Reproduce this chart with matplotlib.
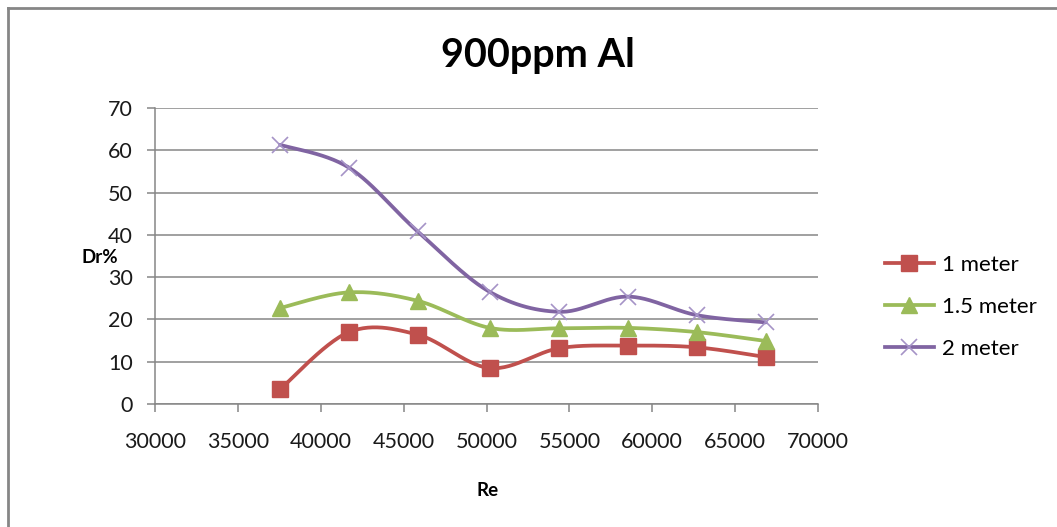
import numpy as np
import matplotlib
matplotlib.use("Agg")
import matplotlib.pyplot as plt
from matplotlib.lines import Line2D

plt.rcParams['font.family'] = ['Lato', 'DejaVu Sans']

re_values = [37550, 41700, 45850, 50200, 54400, 58550, 62700, 66850]
dr_1m = [3.5, 17.0, 16.4, 8.5, 13.2, 13.8, 13.4, 11.1]
dr_15m = [22.7, 26.4, 24.4, 18.0, 17.9, 18.0, 17.0, 14.9]
dr_2m = [61.3, 55.9, 40.8, 26.5, 21.8, 25.4, 21.0, 19.3]
series_labels = ['1 meter', '1.5 meter', '2 meter']
title = '900ppm Al'

W, H = 1057, 527
fig = plt.figure(figsize=(W / 100, H / 100), dpi=100)
ax = fig.add_axes([155 / W, 1 - 404 / H, (818 - 155) / W, (404 - 108) / H])

XMIN, XMAX, YMIN, YMAX = 30000, 70000, 0, 70


def smooth(xs, ys, n=30):
    # Excel-like Bezier smoothing computed in screen-proportional space
    sx = 663.0 / (XMAX - XMIN)
    sy = 296.0 / (YMAX - YMIN)
    P = np.column_stack([(np.asarray(xs) - XMIN) * sx, np.asarray(ys) * sy])
    out = []
    m = len(P)
    for i in range(m - 1):
        p0 = P[i - 1] if i > 0 else P[i]
        p1 = P[i]
        p2 = P[i + 1]
        p3 = P[i + 2] if i + 2 < m else P[i + 1]
        c1 = p1 + (p2 - p0) / 6.0
        c2 = p2 - (p3 - p1) / 6.0
        t = np.linspace(0, 1, n)[:, None]
        seg = ((1 - t) ** 3) * p1 + 3 * ((1 - t) ** 2) * t * c1 + 3 * (1 - t) * t ** 2 * c2 + t ** 3 * p2
        out.append(seg if i == 0 else seg[1:])
    C = np.vstack(out)
    return C[:, 0] / sx + XMIN, C[:, 1] / sy


colors = ['#C0504D', '#9BBB59', '#8064A2']
mcolors = ['#C0504D', '#9BBB59', '#A593C7']
markers = ['s', '^', 'x']
msizes = [11, 11, 11]
data = [dr_1m, dr_15m, dr_2m]

handles = []
for ys, c, mc, mk, ms, lab in zip(data, colors, mcolors, markers, msizes, series_labels):
    cx, cy = smooth(re_values, ys)
    ax.plot(cx, cy, color=c, lw=2.7, solid_capstyle='round', zorder=3)
    if mk == 'x':
        ax.plot(re_values, ys, ls='none', marker=mk, ms=ms, mew=1.2, color=mc, zorder=4)
    else:
        ax.plot(re_values, ys, ls='none', marker=mk, ms=ms, color=mc, mec=mc, zorder=4)
    handles.append(Line2D([0], [0], color=c, lw=2.7, marker=mk, ms=ms,
                          mfc=mc, mec=mc, mew=1.2 if mk == 'x' else 1.0))

ax.set_xlim(XMIN, XMAX)
ax.set_ylim(YMIN, YMAX)
ax.set_xticks(np.arange(30000, 70001, 5000))
ax.set_yticks(np.arange(0, 71, 10))
ax.grid(axis='y', color='#868686', lw=1.1)
ax.set_axisbelow(True)
for s in ['top', 'right']:
    ax.spines[s].set_visible(False)
for s in ['left', 'bottom']:
    ax.spines[s].set_color('#868686')
    ax.spines[s].set_linewidth(1.1)
ax.tick_params(axis='both', direction='out', length=6, width=1.1, color='#868686',
               labelsize=15.5, labelcolor='#1a1a1a')
ax.tick_params(axis='x', pad=14)
ax.tick_params(axis='y', pad=10)

fig.text(538 / W, 1 - 55 / H, title, ha='center', va='center', fontsize=28.5, fontweight='bold')
fig.text(100 / W, 1 - 258 / H, 'Dr%', ha='center', va='center', fontsize=13.5, fontweight='bold')
fig.text(488 / W, 1 - 490 / H, 'Re', ha='center', va='center', fontsize=13.5, fontweight='bold')

leg = fig.legend(handles, series_labels, loc='center left', bbox_to_anchor=(885 / W, 1 - 307 / H),
                 frameon=False, fontsize=16, handlelength=2.2, handletextpad=0.35,
                 labelspacing=1.0, borderpad=0, borderaxespad=0)

# chart border (left and top edges visible)
fig.add_artist(Line2D([8 / W, 8 / W], [0, 1 - 8 / H], transform=fig.transFigure, color='#868686', lw=2))
fig.add_artist(Line2D([8 / W, 1], [1 - 8 / H, 1 - 8 / H], transform=fig.transFigure, color='#868686', lw=2))

fig.savefig('out.png', dpi=100)
